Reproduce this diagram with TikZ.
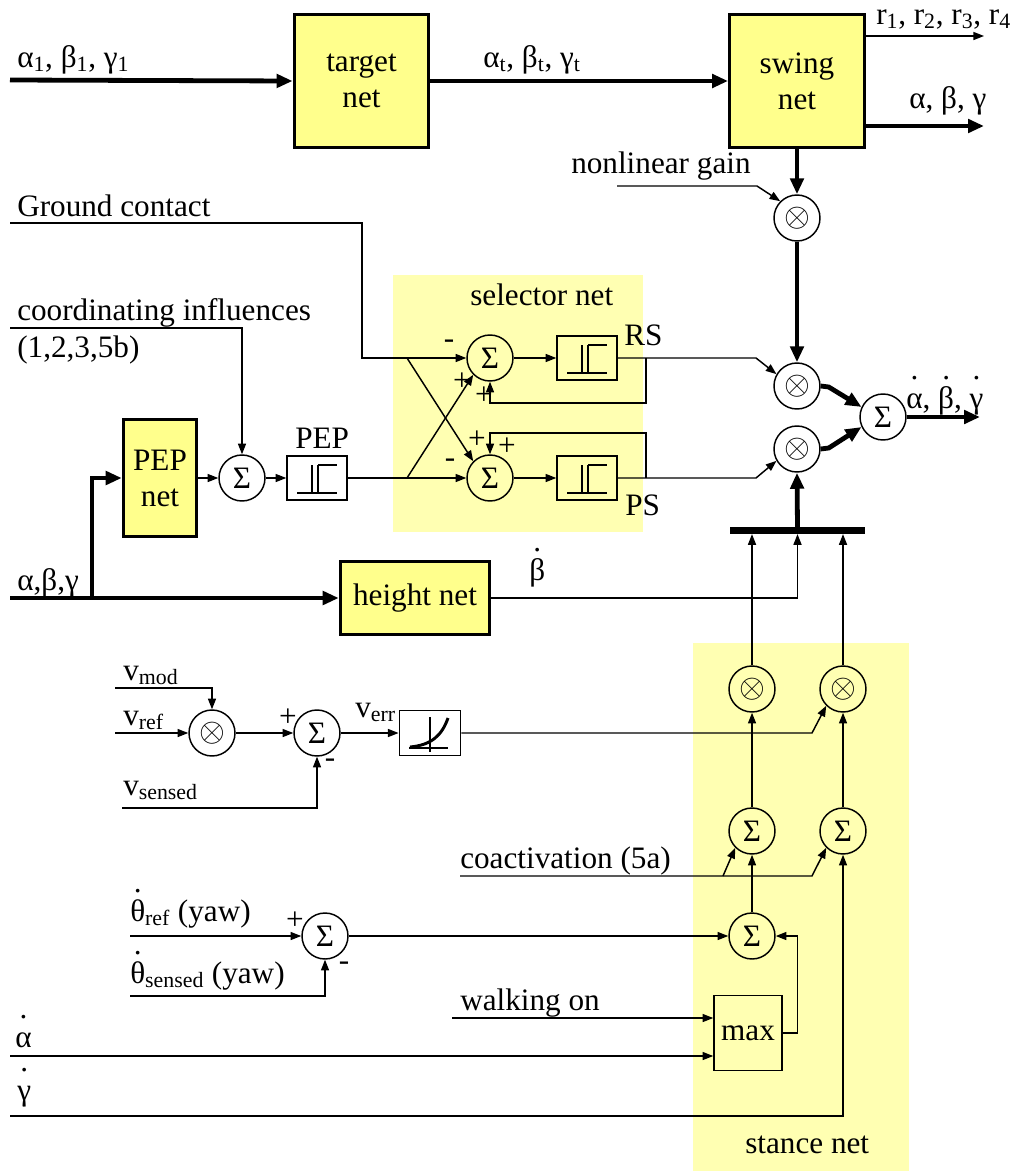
\documentclass[tikz,border=0pt]{standalone}
\usepackage{fontspec}
\setmainfont{Liberation Serif}
\usetikzlibrary{arrows.meta}

\definecolor{netyellow}{RGB}{255,255,140}
\definecolor{areayellow}{RGB}{255,255,178}

% dot placed well above a letter
\newcommand{\dotab}[1]{\ooalign{#1\cr\hidewidth\raisebox{0.9em}{.}\hidewidth\cr}}

% hysteresis step inside a threshold box
\newcommand{\hystglyph}[1]{%
  \begin{scope}[shift={(#1)}]
    \draw[line width=2.2pt] (-20,15) -- (0,15);
    \draw[line width=2.2pt] (-5,15) -- (-5,-13);
    \draw[line width=1.1pt] (1,15) -- (1,-13);
    \draw[line width=1.8pt] (1,-13) -- (20,-13);
    \draw[line width=1.1pt] (0,15) -- (20,15);
  \end{scope}}

% rising curve inside the error box
\newcommand{\expglyph}[1]{%
  \begin{scope}[shift={(#1)}]
    \draw[line width=1.1pt] (0,-16) -- (0,19) (-21,15) -- (18,15);
    \draw[line width=2.2pt] (-20,14) .. controls (2,12) and (12,2) .. (18,-15);
  \end{scope}}

\begin{document}
\begin{tikzpicture}[
    x=0.75pt, y=-0.75pt,
    every node/.style={font=\fontsize{23.4}{27}\selectfont},
    sigline/.style={line width=1.1pt},
    sigarr/.style={sigline, -{Triangle[length=8pt,width=6pt]}},
    busline/.style={line width=3.6pt},
    busarr/.style={busline, -{Triangle[length=12pt,width=10pt]}},
    netbox/.style={rectangle, draw, line width=2.4pt, fill=netyellow,
        align=center, inner sep=0pt},
    opcirc/.style={circle, draw, line width=1.1pt, minimum size=34.5pt, inner sep=0pt},
    funcbox/.style={rectangle, draw, line width=1.1pt, inner sep=0pt,
        minimum width=45pt, minimum height=33pt},
    lbl/.style={anchor=base west, inner sep=0pt},
    sign/.style={inner sep=0pt}
]
    \useasboundingbox (0,0) rectangle (1012,1171);

    % --- shaded sub-networks ---
    \fill[areayellow] (393,275) rectangle (643,532);
    \fill[areayellow] (693,643) rectangle (909,1171);

    % --- 1. Swing path ---
    \node[netbox, minimum width=101pt, minimum height=100pt] (target) at (361.5,81) {target\\net};
    \node[netbox, minimum width=101pt, minimum height=100pt] (swing) at (797,81) {swing\\net};
    \node[opcirc] (gainmul) at (797,218) {$\otimes$};

    \coordinate (in1) at (10,80);
    \coordinate (rout) at (984,36);
    \coordinate (abgout) at (984,126);
    \coordinate (gainin) at (617,186);

    \draw[busarr] (in1) -- (target.west);
    \draw[busarr] (target.east) -- (swing.west);
    \draw[sigarr] (swing.east |- rout) -- (rout);
    \draw[busarr] (swing.east |- abgout) -- (abgout);
    \draw[busarr] (swing.south) -- (gainmul.north);
    \draw[sigarr] (gainin) -- ++(140,0) -- (gainmul.north west);

    \node[lbl] (lin) at (17,67) {α\textsubscript{1}, β\textsubscript{1}, γ\textsubscript{1}};
    \node[lbl] (ltgt) at (483,67) {α\textsubscript{t}, β\textsubscript{t}, γ\textsubscript{t}};
    \node[lbl] (lr) at (876,24) {r\textsubscript{1}, r\textsubscript{2}, r\textsubscript{3}, r\textsubscript{4}};
    \node[lbl] (labg) at (909,108) {α, β, γ};
    \node[lbl] (lgain) at (571,173) {nonlinear gain};

    % --- 2. Selector net ---
    \node[opcirc] (rssum) at (490,358) {Σ};
    \node[opcirc] (pssum) at (490,478) {Σ};
    \node[funcbox] (rsstep) at (587,358) {};
    \node[funcbox] (psstep) at (587,478) {};
    \hystglyph{rsstep.center}
    \hystglyph{psstep.center}

    \node[opcirc] (rsmul) at (797,386) {$\otimes$};
    \node[opcirc] (psmul) at (797,449) {$\otimes$};
    \node[opcirc] (outsum) at (883,417) {Σ};

    \coordinate (gcin) at (10,223);
    \coordinate (gcbend) at (362,223);
    \coordinate (crossA) at (407,358);
    \coordinate (crossB) at (407,478);
    \coordinate (rsfb) at (646,358);
    \coordinate (rsfbl) at (646,403);
    \coordinate (psfb) at (646,478);
    \coordinate (psfbt) at (646,433);
    \coordinate (rsbend) at (756,358);
    \coordinate (psbend) at (756,478);
    \coordinate (dotout) at (980,417);

    \draw[sigarr] (gcin) -- (gcbend) |- (rssum.west);
    \draw[sigarr] (crossA) -- (pssum.north west);
    \draw[sigarr] (crossB) -- (rssum.south west);
    \draw[sigarr] (rssum.east) -- (rsstep.west);
    \draw[sigarr] (pssum.east) -- (psstep.west);
    \draw[sigarr] (rsfb) -- (rsfbl) -| (rssum.south);
    \draw[sigarr] (psfb) -- (psfbt) -| (pssum.north);
    \draw[sigarr] (rsstep.east) -- (rsbend) -- (rsmul.150);
    \draw[sigarr] (psstep.east) -- (psbend) -- (psmul.210);
    \draw[busarr] (gainmul.south) -- (rsmul.north);
    \draw[busarr] (rsmul.east) -- ++(8,1) -- (outsum.155);
    \draw[busarr] (psmul.east) -- ++(8,-1) -- (outsum.205);
    \draw[busarr] (outsum.east) -- (dotout);

    \node[lbl] (lgc) at (17,216) {Ground contact};
    \node[lbl] (lsel) at (470,305) {selector net};
    \node[lbl] (lrs) at (624,345) {RS};
    \node[lbl] (lps) at (625,515) {PS};
    \node[lbl] (lout) at (906,408) {\dotab{α}, \dotab{β}, \dotab{γ}};
    \node[sign] (s1) at (449,344) {-};
    \node[sign] (s2) at (462,382) {+};
    \node[sign] (s3) at (484,396) {+};
    \node[sign] (s4) at (477,440) {+};
    \node[sign] (s5) at (507,447) {+};
    \node[sign] (s6) at (450,463) {-};

    % --- 3. PEP and height nets ---
    \node[netbox, minimum width=55pt, minimum height=88pt] (pepnet) at (160,478) {PEP\\net};
    \node[opcirc] (pepsum) at (242,478) {Σ};
    \node[funcbox] (pepstep) at (317,478) {};
    \hystglyph{pepstep.center}
    \node[netbox, minimum width=112pt, minimum height=55pt] (height) at (415,598) {height net};
    \node[rectangle, fill=black, minimum width=101pt, minimum height=5pt, inner sep=0pt] (bar) at (797.5,530.5) {};

    \coordinate (in2) at (10,598);
    \coordinate (split) at (92,598);
    \coordinate (coin) at (10,328);

    \draw[busarr] (in2) -- (height.west);
    \draw[busarr] (split) |- (pepnet.west);
    \draw[sigarr] (pepnet.east) -- (pepsum.west);
    \draw[sigarr] (coin) -| (pepsum.north);
    \draw[sigarr] (pepsum.east) -- (pepstep.west);
    \draw[sigarr] (pepstep.east) -- (pssum.west);
    \draw[sigarr] (height.east) -| (bar.south);
    \draw[busarr] (bar.north) -- (psmul.south);

    \node[lbl] (lcoord) at (17,320) {coordinating influences};
    \node[lbl] (lcoordn) at (17,357) {(1,2,3,5b)};
    \node[lbl] (lpep) at (295,448) {PEP};
    \node[lbl] (labgin) at (17,590) {α,β,γ};
    \node[lbl] (lbdot) at (529,580) {\dotab{β}};

    % --- 4. Velocity and yaw control ---
    \node[opcirc] (vmul) at (212,733) {$\otimes$};
    \node[opcirc] (vsum) at (317,733) {Σ};
    \node[funcbox, minimum width=46pt, minimum height=34pt] (errcurve) at (430,733) {};
    \expglyph{errcurve.center}
    \node[opcirc] (yawsum) at (325,936) {Σ};

    \coordinate (vmodin) at (115,688);
    \coordinate (vrefin) at (115,733);
    \coordinate (vsensin) at (122,808);
    \coordinate (yrefin) at (130,936);
    \coordinate (ysensin) at (130,996);

    \draw[sigarr] (vmodin) -| (vmul.north);
    \draw[sigarr] (vrefin) -- (vmul.west);
    \draw[sigarr] (vmul.east) -- (vsum.west);
    \draw[sigarr] (vsensin) -| (vsum.south);
    \draw[sigarr] (vsum.east) -- (errcurve.west);
    \draw[sigarr] (yrefin) -- (yawsum.west);
    \draw[sigarr] (ysensin) -| (yawsum.south);

    \node[lbl] (lvmod) at (123,680) {v\textsubscript{mod}};
    \node[lbl] (lvref) at (123,725) {v\textsubscript{ref}};
    \node[lbl] (lvsens) at (123,795) {v\textsubscript{sensed}};
    \node[lbl] (lverr) at (355,717) {v\textsubscript{err}};
    \node[lbl] (lyref) at (130,921) {\dotab{θ}\textsubscript{ref} (yaw)};
    \node[lbl] (lysens) at (130,983) {\dotab{θ}\textsubscript{sensed} (yaw)};
    \node[sign] (s7) at (288,718) {+};
    \node[sign] (s8) at (330,763) {-};
    \node[sign] (s9) at (295,921) {+};
    \node[sign] (s10) at (344,966) {-};

    % --- 5. Stance net ---
    \node[opcirc] (mula) at (752,689) {$\otimes$};
    \node[opcirc] (mulb) at (843,689) {$\otimes$};
    \node[opcirc] (suma) at (752,831) {Σ};
    \node[opcirc] (sumb) at (843,831) {Σ};
    \node[opcirc] (sumc) at (752,936) {Σ};
    \node[funcbox, minimum width=51pt, minimum height=56pt] (maxbox) at (748,1033) {max};

    \coordinate (errbend) at (812,733);
    \coordinate (coin5a) at (460,876);
    \coordinate (cobend) at (812,876);
    \coordinate (cobr) at (723,876);
    \coordinate (walkin) at (452,1018);
    \coordinate (adotin) at (10,1056);
    \coordinate (gdotin) at (10,1116);

    \draw[sigarr] (mula.north) -- (mula.north |- bar.south);
    \draw[sigarr] (mulb.north) -- (mulb.north |- bar.south);
    \draw[sigarr] (suma.north) -- (mula.south);
    \draw[sigarr] (sumb.north) -- (mulb.south);
    \draw[sigarr] (sumc.north) -- (suma.south);
    \draw[sigarr] (errcurve.east) -- (errbend) -- (mulb.225);
    \draw[sigarr] (coin5a) -- (cobend) -- (sumb.225);
    \draw[sigarr] (cobr) -- (suma.225);
    \draw[sigarr] (yawsum.east) -- (sumc.west);
    \draw[sigarr] (maxbox.east) -- ++(15,0) |- (sumc.east);
    \draw[sigarr] (walkin) -- (walkin -| maxbox.west);
    \draw[sigarr] (adotin) -- (adotin -| maxbox.west);
    \draw[sigarr] (gdotin) -| (sumb.south);

    \node[lbl] (lcoact) at (460,868) {coactivation (5a)};
    \node[lbl] (lwalk) at (460,1010) {walking on};
    \node[lbl] (ladot) at (15,1047) {\dotab{α}};
    \node[lbl] (lgdot) at (17,1100) {\dotab{γ}};
    \node[lbl] (lstance) at (745,1153) {stance net};
\end{tikzpicture}
\end{document}
